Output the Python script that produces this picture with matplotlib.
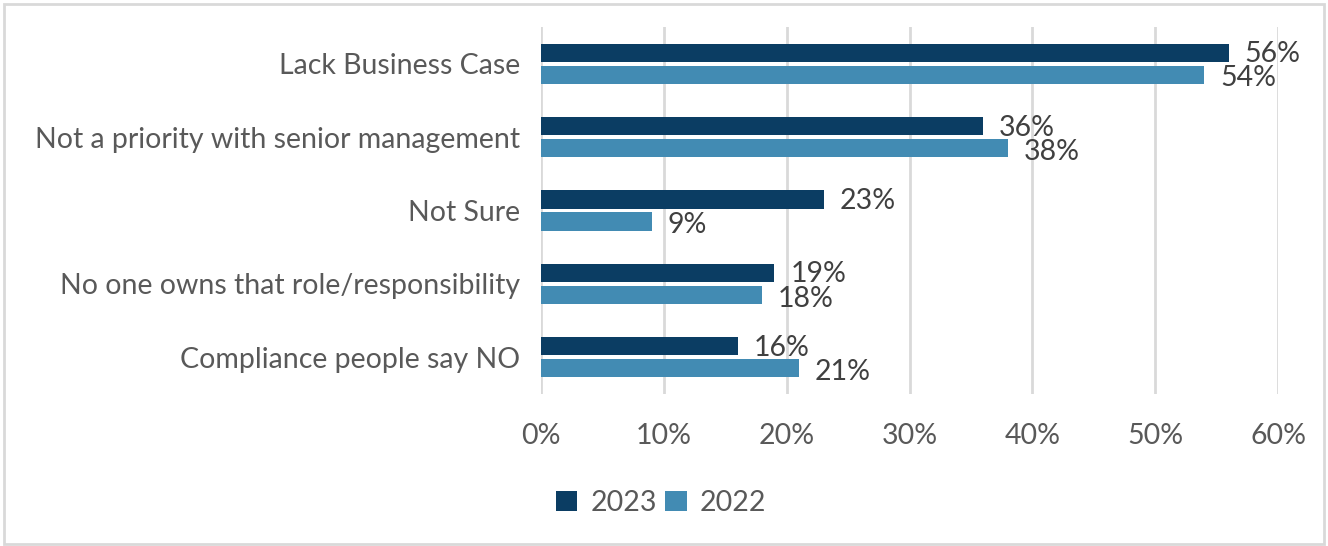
import matplotlib.pyplot as plt
import numpy as np
from matplotlib.patches import Rectangle
from matplotlib.ticker import PercentFormatter

# 障壁の理由ごとの回答割合（%）
categories = [
    "Lack Business Case",
    "Not a priority with senior management",
    "Not Sure",
    "No one owns that role/responsibility",
    "Compliance people say NO",
]
values_2023 = [56, 36, 23, 19, 16]
values_2022 = [54, 38, 9, 18, 21]

color_2023 = "#0b3d63"
color_2022 = "#428bb3"
fs = 20.5

plt.rcParams["font.family"] = ["Lato", "DejaVu Sans"]

fig = plt.figure(figsize=(13.28, 5.46), dpi=100)
ax = fig.add_axes([541 / 1328, 1 - 394 / 546, (1278 - 541) / 1328, (394 - 27) / 546])

y = np.arange(len(categories))
h = 0.25
off = 0.15
ax.barh(y - off, values_2023, height=h, color=color_2023, label="2023", zorder=3)
ax.barh(y + off, values_2022, height=h, color=color_2022, label="2022", zorder=3)

# 値ラベル
for yi, v in zip(y, values_2023):
    ax.text(v + 1.3, yi - off + 0.02, f"{v}%", va="center", ha="left",
            fontsize=fs, color="#404040")
for yi, v in zip(y, values_2022):
    ax.text(v + 1.3, yi + off + 0.05, f"{v}%", va="center", ha="left",
            fontsize=fs, color="#404040")

ax.set_xlim(0, 60)
ax.set_ylim(len(categories) - 0.5, -0.5)
ax.set_xticks(range(0, 61, 10))
ax.xaxis.set_major_formatter(PercentFormatter(decimals=0))
ax.set_yticks(y)
ax.set_yticklabels(categories)
ax.tick_params(axis="both", length=0, labelsize=fs, labelcolor="#595959")
ax.tick_params(axis="x", pad=21)
ax.tick_params(axis="y", pad=15)
ax.grid(axis="x", color="#d9d9d9", linewidth=2, zorder=0)
for s in ax.spines.values():
    s.set_visible(False)

leg = fig.legend(loc="center", bbox_to_anchor=(661 / 1328, 1 - 503 / 546), ncol=2,
                 frameon=False, fontsize=fs, handlelength=0.75, handleheight=0.75,
                 handletextpad=0.45, columnspacing=0.3)
for t in leg.get_texts():
    t.set_color("#595959")

# 外枠
fig.patches.append(Rectangle((0.003, 0.003), 0.994, 0.99, transform=fig.transFigure,
                             fill=False, edgecolor="#d9d9d9", linewidth=2))

fig.savefig("out.png", dpi=100)
